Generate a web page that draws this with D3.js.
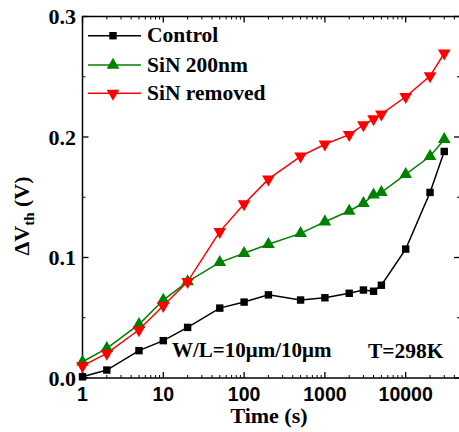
<!DOCTYPE html>
<html>
<head>
<meta charset="utf-8">
<script src="https://cdn.jsdelivr.net/npm/d3@7"></script>
<style>
  body { margin: 0; background: #fff; }
  svg { display: block; }
</style>
</head>
<body>
<svg id="chart" width="459" height="432"></svg>
<script>
// stress time (s)
const times = [1, 2, 5, 10, 20, 50, 100, 200, 500, 1000, 2000, 3000, 4000, 5000, 10000, 20000, 30000]

const control = [0.001, 0.0066, 0.0227, 0.031, 0.042, 0.058, 0.063, 0.069, 0.0647, 0.0666, 0.0703, 0.073, 0.072, 0.077, 0.107, 0.154, 0.188]
const sin200 = [0.0135, 0.0246, 0.0445, 0.0647, 0.080, 0.096, 0.1035, 0.111, 0.120, 0.1297, 0.1386, 0.145, 0.152, 0.154, 0.169, 0.184, 0.198]
const sinRemoved = [0.010, 0.0205, 0.040, 0.060, 0.080, 0.1215, 0.1444, 0.165, 0.184, 0.194, 0.202, 0.210, 0.215, 0.219, 0.2334, 0.2506, 0.2695]

const xTicks = [1, 10, 100, 1000, 10000]
const yTicks = [0.0, 0.1, 0.2, 0.3]

const series = [
  { name: 'Control', values: control, color: '#000', marker: 'square' },
  { name: 'SiN 200nm', values: sin200, color: '#008000', marker: 'up' },
  { name: 'SiN removed', values: sinRemoved, color: '#ff0000', marker: 'down' }
]

const svg = d3.select('#chart')
const m = { left: 82.5, right: 460, top: 16.5, bottom: 378 }

const x = d3.scaleLog().domain([1, 10000]).range([m.left, 405.7])
const y = d3.scaleLinear().domain([0, 0.3]).range([m.bottom, m.top])

const serif = 'Liberation Serif, Times New Roman, serif'
const sans = 'Liberation Sans, Arial, sans-serif'

// minor ticks for the log axis
const xMinor = []
for (let d = 1; d <= 10000; d *= 10) {
  for (let k = 2; k <= 9; k++) {
    if (x(d * k) < m.right) xMinor.push(d * k)
  }
}
const yMinor = [0.05, 0.15, 0.25]

const frame = svg.append('g').attr('stroke', '#000').attr('fill', 'none')
frame.append('rect')
  .attr('x', m.left).attr('y', m.top)
  .attr('width', m.right - m.left).attr('height', m.bottom - m.top)
  .attr('stroke-width', 1.5)

// ticks point inward on all four sides
xTicks.forEach(t => {
  frame.append('line').attr('x1', x(t)).attr('x2', x(t)).attr('y1', m.bottom).attr('y2', m.bottom - 6).attr('stroke-width', 1.3)
  frame.append('line').attr('x1', x(t)).attr('x2', x(t)).attr('y1', m.top).attr('y2', m.top + 6).attr('stroke-width', 1.3)
})
xMinor.forEach(t => {
  frame.append('line').attr('x1', x(t)).attr('x2', x(t)).attr('y1', m.bottom).attr('y2', m.bottom - 3).attr('stroke-width', 1)
  frame.append('line').attr('x1', x(t)).attr('x2', x(t)).attr('y1', m.top).attr('y2', m.top + 3).attr('stroke-width', 1)
})
yTicks.forEach(t => {
  frame.append('line').attr('x1', m.left).attr('x2', m.left + 6).attr('y1', y(t)).attr('y2', y(t)).attr('stroke-width', 1.3)
  frame.append('line').attr('x1', m.right).attr('x2', m.right - 6).attr('y1', y(t)).attr('y2', y(t)).attr('stroke-width', 1.3)
})
yMinor.forEach(t => {
  frame.append('line').attr('x1', m.left).attr('x2', m.left + 3).attr('y1', y(t)).attr('y2', y(t)).attr('stroke-width', 1)
  frame.append('line').attr('x1', m.right).attr('x2', m.right - 3).attr('y1', y(t)).attr('y2', y(t)).attr('stroke-width', 1)
})

// tick labels
svg.append('g').selectAll('text').data(xTicks).join('text')
  .attr('x', d => x(d)).attr('y', 401)
  .attr('text-anchor', 'middle')
  .attr('font-family', sans).attr('font-weight', 'bold').attr('font-size', 19.5)
  .text(d => d)

svg.append('g').selectAll('text').data(yTicks).join('text')
  .attr('x', 76).attr('y', d => y(d) + 7.5)
  .attr('text-anchor', 'end')
  .attr('font-family', serif).attr('font-weight', 'bold').attr('font-size', 22)
  .text(d => d.toFixed(1))

// axis titles
svg.append('text')
  .attr('x', 269).attr('y', 423)
  .attr('text-anchor', 'middle')
  .attr('font-family', serif).attr('font-weight', 'bold').attr('font-size', 22)
  .text('Time (s)')

const yTitle = svg.append('text')
  .attr('transform', 'translate(29,216) rotate(-90)')
  .attr('text-anchor', 'middle')
  .attr('font-family', serif).attr('font-weight', 'bold').attr('font-size', 22)
yTitle.append('tspan').text('ΔV')
yTitle.append('tspan').attr('font-size', 15).attr('dy', 5).text('th')
yTitle.append('tspan').attr('dy', -5).text(' (V)')

const symbol = {
  square: d3.symbol().type(d3.symbolSquare).size(55),
  up: d3.symbol().type(d3.symbolTriangle).size(70),
  down: d3.symbol().type(d3.symbolTriangle).size(70)
}

const line = d3.line().x(d => x(d[0])).y(d => y(d[1]))

const plot = svg.append('g')
series.forEach(s => {
  const pts = times.map((t, i) => [t, s.values[i]])
  plot.append('path')
    .attr('d', line(pts))
    .attr('fill', 'none')
    .attr('stroke', s.color)
    .attr('stroke-width', 1.5)
  plot.selectAll(null).data(pts).join('path')
    .attr('d', symbol[s.marker]())
    .attr('transform', d => `translate(${x(d[0])},${y(d[1])})` + (s.marker === 'down' ? ' rotate(180)' : ''))
    .attr('fill', s.color)
})

// legend
const legendY = [35.7, 65, 93.3]
const legend = svg.append('g')
series.forEach((s, i) => {
  const ly = legendY[i]
  legend.append('line')
    .attr('x1', 88).attr('x2', 141).attr('y1', ly).attr('y2', ly)
    .attr('stroke', s.color).attr('stroke-width', 1.5)
  legend.append('path')
    .attr('d', symbol[s.marker]())
    .attr('transform', `translate(113,${ly})` + (s.marker === 'down' ? ' rotate(180)' : ''))
    .attr('fill', s.color)
  legend.append('text')
    .attr('x', 147).attr('y', ly + 6.5)
    .attr('font-family', serif).attr('font-weight', 'bold').attr('font-size', 21.5)
    .text(s.name)
})

// annotations
svg.append('text')
  .attr('x', 172).attr('y', 357)
  .attr('font-family', serif).attr('font-weight', 'bold').attr('font-size', 21)
  .text('W/L=10μm/10μm')
svg.append('text')
  .attr('x', 368).attr('y', 358)
  .attr('font-family', serif).attr('font-weight', 'bold').attr('font-size', 21.5)
  .text('T=298K')
</script>
</body>
</html>
